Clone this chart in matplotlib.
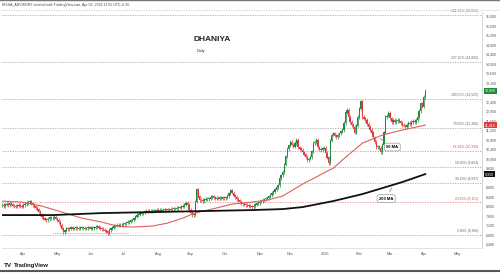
import numpy as np
import matplotlib.pyplot as plt
import pandas as pd

plt.rcParams['font.family'] = ['Liberation Sans', 'DejaVu Sans']

# daily closes, DHANIYA futures, Mar 2025 -> Apr 2 2026
closes = [
    8040, 8010, 8060, 8090, 8050, 8100, 8080, 8030, 8000, 7980,
    8020, 8050, 8010, 7990, 8040, 8090, 8130, 8170, 8200, 8120,
    8050, 7980, 7920, 7850, 7760, 7650, 7540, 7480, 7430, 7410,
    7460, 7520, 7490, 7500, 7540, 7470, 7410, 7330, 7200, 7060,
    6900, 6980, 7070, 7040, 7060, 7090, 7050, 7070, 7100, 7080,
    7060, 7090, 7110, 7080, 7060, 7070, 7100, 7090, 7060, 7080,
    7110, 7120, 7140, 7100, 7060, 7030, 7000, 6960, 6920, 6870,
    6990, 7060, 7110, 7160, 7190, 7200, 7170, 7210, 7200, 7240,
    7280, 7320, 7330, 7360, 7400, 7410, 7480, 7560, 7620, 7650,
    7680, 7700, 7720, 7760, 7790, 7770, 7800, 7790, 7790, 7820,
    7800, 7830, 7810, 7840, 7820, 7830, 7860, 7840, 7870, 7850,
    7880, 7870, 7900, 7890, 7920, 7950, 7940, 7980, 8000, 8060,
    8130, 8050, 7830, 7720, 7620, 7650, 8200, 8700, 8400, 8260,
    8250, 8220, 8270, 8300, 8290, 8330, 8380, 8400, 8360, 8330,
    8340, 8310, 8350, 8330, 8370, 8340, 8360, 8420, 8520, 8650,
    8560, 8450, 8380, 8300, 8230, 8170, 8120, 8090, 8060, 8040,
    8040, 8010, 7980, 7960, 8000, 8060, 8100, 8130, 8180, 8220,
    8250, 8290, 8310, 8340, 8400, 8460, 8550, 8620, 8700, 8800,
    8880, 9180, 9300, 9430, 9750, 10100, 10400, 10550, 10700, 10580,
    10500, 10650, 10780, 10480, 10420, 10360, 10270, 10180, 10060, 9940,
    9990, 10060, 10300, 10650, 10700, 10780, 10480, 10400, 10360, 10420,
    10440, 10230, 10050, 9810, 10750, 11000, 11070, 10980, 10900, 10990,
    11070, 11150, 11200, 11500, 11950, 12040, 11750, 11540, 11420, 11330,
    11110, 11400, 11750, 12100, 12400, 11750, 11680, 11620, 11450, 11330,
    11200, 11110, 10900, 10700, 10480, 10520, 10440, 10270, 10570, 11100,
    11750, 11800, 11920, 11700, 11540, 11620, 11540, 11580, 11620, 11560,
    11500, 11420, 11380, 11330, 11420, 11500, 11460, 11540, 11580, 11540,
    11620, 11750, 12000, 12330, 12200, 12600, 12850,
]
start_date = '2025-03-12'

# moving averages read at a few bars
ma50_bar = [0, 13, 26, 39, 52, 65, 75, 85, 98, 108, 118, 124, 131, 137, 150,
            163, 173, 183, 196, 216, 225, 235, 248, 261, 276]
ma50_val = [8211, 8168, 8000, 7748, 7495, 7326, 7158, 7116, 7158, 7284, 7495,
            7663, 7790, 7874, 8084, 8168, 8253, 8421, 8926, 9600, 10105, 10653,
            10990, 11200, 11411]
ma200_bar = [0, 33, 65, 98, 131, 163, 183, 196, 216, 235, 248, 261, 276]
ma200_val = [7621, 7621, 7705, 7748, 7790, 7832, 7874, 7958, 8211, 8505, 8758,
             9011, 9347]

# fibonacci levels
fib_pct = [161.8, 127.2, 100.0, 78.6, 61.8, 50.0, 38.2, 23.6, 0.0]
fib_price = [16063, 14082, 12525, 11300, 10338, 9663, 8987, 8151, 6800]
fib_red = [61.8, 23.6]

price_ticks = list(range(6400, 16001, 400))
month_labels = ['Apr', 'May', 'Jun', 'Jul', 'Aug', 'Sep', 'Oct', 'Nov', 'Dec',
                '2026', 'Feb', 'Mar', 'Apr', 'May']

UP = '#1e8a3c'
DOWN = '#e0393e'

fig = plt.figure(figsize=(5, 2.75), dpi=100)
ax = fig.add_axes([0.004, 0.098, 0.96, 0.858])

c = np.array(closes, dtype=float)
o = np.r_[c[0], c[:-1]]
x = np.arange(len(c))
cols = np.where(c >= o, UP, DOWN)
lo = np.minimum(o, c)
hi = np.maximum(o, c)
ax.vlines(x, lo - 70, hi + 70, colors=cols, lw=0.5, zorder=3)
ax.bar(x, hi - lo + 24, bottom=lo - 12, width=0.85, color=cols, lw=0, zorder=4)

# moving averages
ax.plot(ma50_bar, ma50_val, color='#e0605a', lw=0.8, zorder=5)
ax.plot(ma200_bar, ma200_val, color='#111111', lw=1.3, zorder=5)

# support highlight in May-Jun
ax.fill_between([33, 83], 6820, 6880, color='#d6d6d6', lw=0, zorder=2)

# fib levels
for p, v in zip(fib_pct, fib_price):
    col = '#e88b8b' if p in fib_red else '#a8a8a8'
    tcol = '#d9534f' if p in fib_red else '#666666'
    ax.axhline(v, color=col, lw=0.6, ls=(0, (1.5, 1.5)), zorder=1)
    ax.text(310.5, v + 60, '%.2f%% (%s)' % (p, format(v, ',')), fontsize=2.4,
            color=tcol, ha='right', va='bottom')

# labels for MAs
box = dict(boxstyle='round,pad=0.45', fc='white', ec='#9a9a9a', lw=0.5)
ax.annotate('50 MA', xy=(245, 10910), xytext=(254.5, 10485), fontsize=3,
            fontweight='bold', ha='center', va='center', bbox=box, zorder=6,
            arrowprops=dict(arrowstyle='-', color='#777777', lw=0.5))
ax.annotate('200 MA', xy=(255, 8870), xytext=(250.5, 8317), fontsize=3,
            fontweight='bold', ha='center', va='center', bbox=box, zorder=6,
            arrowprops=dict(arrowstyle='-', color='#777777', lw=0.5))

# title
fig.text(0.386, 0.858, 'DHANIYA', fontsize=6, fontweight='bold', color='#222222',
         ha='left', va='center')
fig.text(0.394, 0.815, 'Daily', fontsize=2.8, color='#333333', ha='left', va='center')

# price tags on the right scale
tags = [(c[-1], UP), (ma50_val[-1], DOWN), (ma200_val[-1], '#111111')]

# axes
ax.set_xlim(0, 313)
ax.set_ylim(6233, 16168)
all_days = pd.bdate_range(start_date, periods=len(closes) + 40)
mpos = [i for i in range(1, len(all_days)) if all_days[i].month != all_days[i - 1].month]
ax.set_xticks(mpos[:len(month_labels)])
ax.set_xticklabels(month_labels[:len(mpos)], fontsize=2.8, color='#555555')
ax.yaxis.tick_right()
shown = [t for t in price_ticks if all(abs(t - v) > 160 for v, _ in tags)]
ax.set_yticks(shown)
ax.set_yticklabels([format(t, ',') for t in shown], fontsize=2.6, color='#555555')
ax.tick_params(length=0, pad=3)
for s in ['top', 'left']:
    ax.spines[s].set_visible(False)
ax.spines['right'].set_color('#cfcfcf')
ax.spines['bottom'].set_color('#dddddd')
ax.spines['right'].set_linewidth(0.6)
ax.spines['bottom'].set_linewidth(0.6)

for val, col in tags:
    ax.annotate(format(int(round(val, -1)), ','), xy=(1.0, val),
                xycoords=('axes fraction', 'data'), xytext=(2, 0),
                textcoords='offset points', fontsize=2.6, color='white',
                ha='left', va='center', annotation_clip=False,
                bbox=dict(boxstyle='square,pad=0.35', fc=col, ec='none'))

# header / footer
fig.text(0.004, 0.982, 'KISSA_ADVISORY created with TradingView.com, Apr 02, 2026 11:55 UTC+5:30',
         fontsize=2.5, color='#444444', ha='left', va='center')
fig.add_artist(plt.Line2D([0, 1], [0.963, 0.963], color='#e2e2e2', lw=0.6))
fig.add_artist(plt.Line2D([0, 1], [0.999, 0.999], color='#777777', lw=1.0))
fig.add_artist(plt.Line2D([0, 1], [0.013, 0.013], color='#555555', lw=1.5))
fig.text(0.008, 0.036, 'TV', fontsize=4.6, fontweight='bold', color='#131722',
         ha='left', va='center')
fig.text(0.027, 0.036, 'TradingView', fontsize=4.3, fontweight='bold', color='#131722',
         ha='left', va='center')

fig.savefig('out.png', dpi=100)
